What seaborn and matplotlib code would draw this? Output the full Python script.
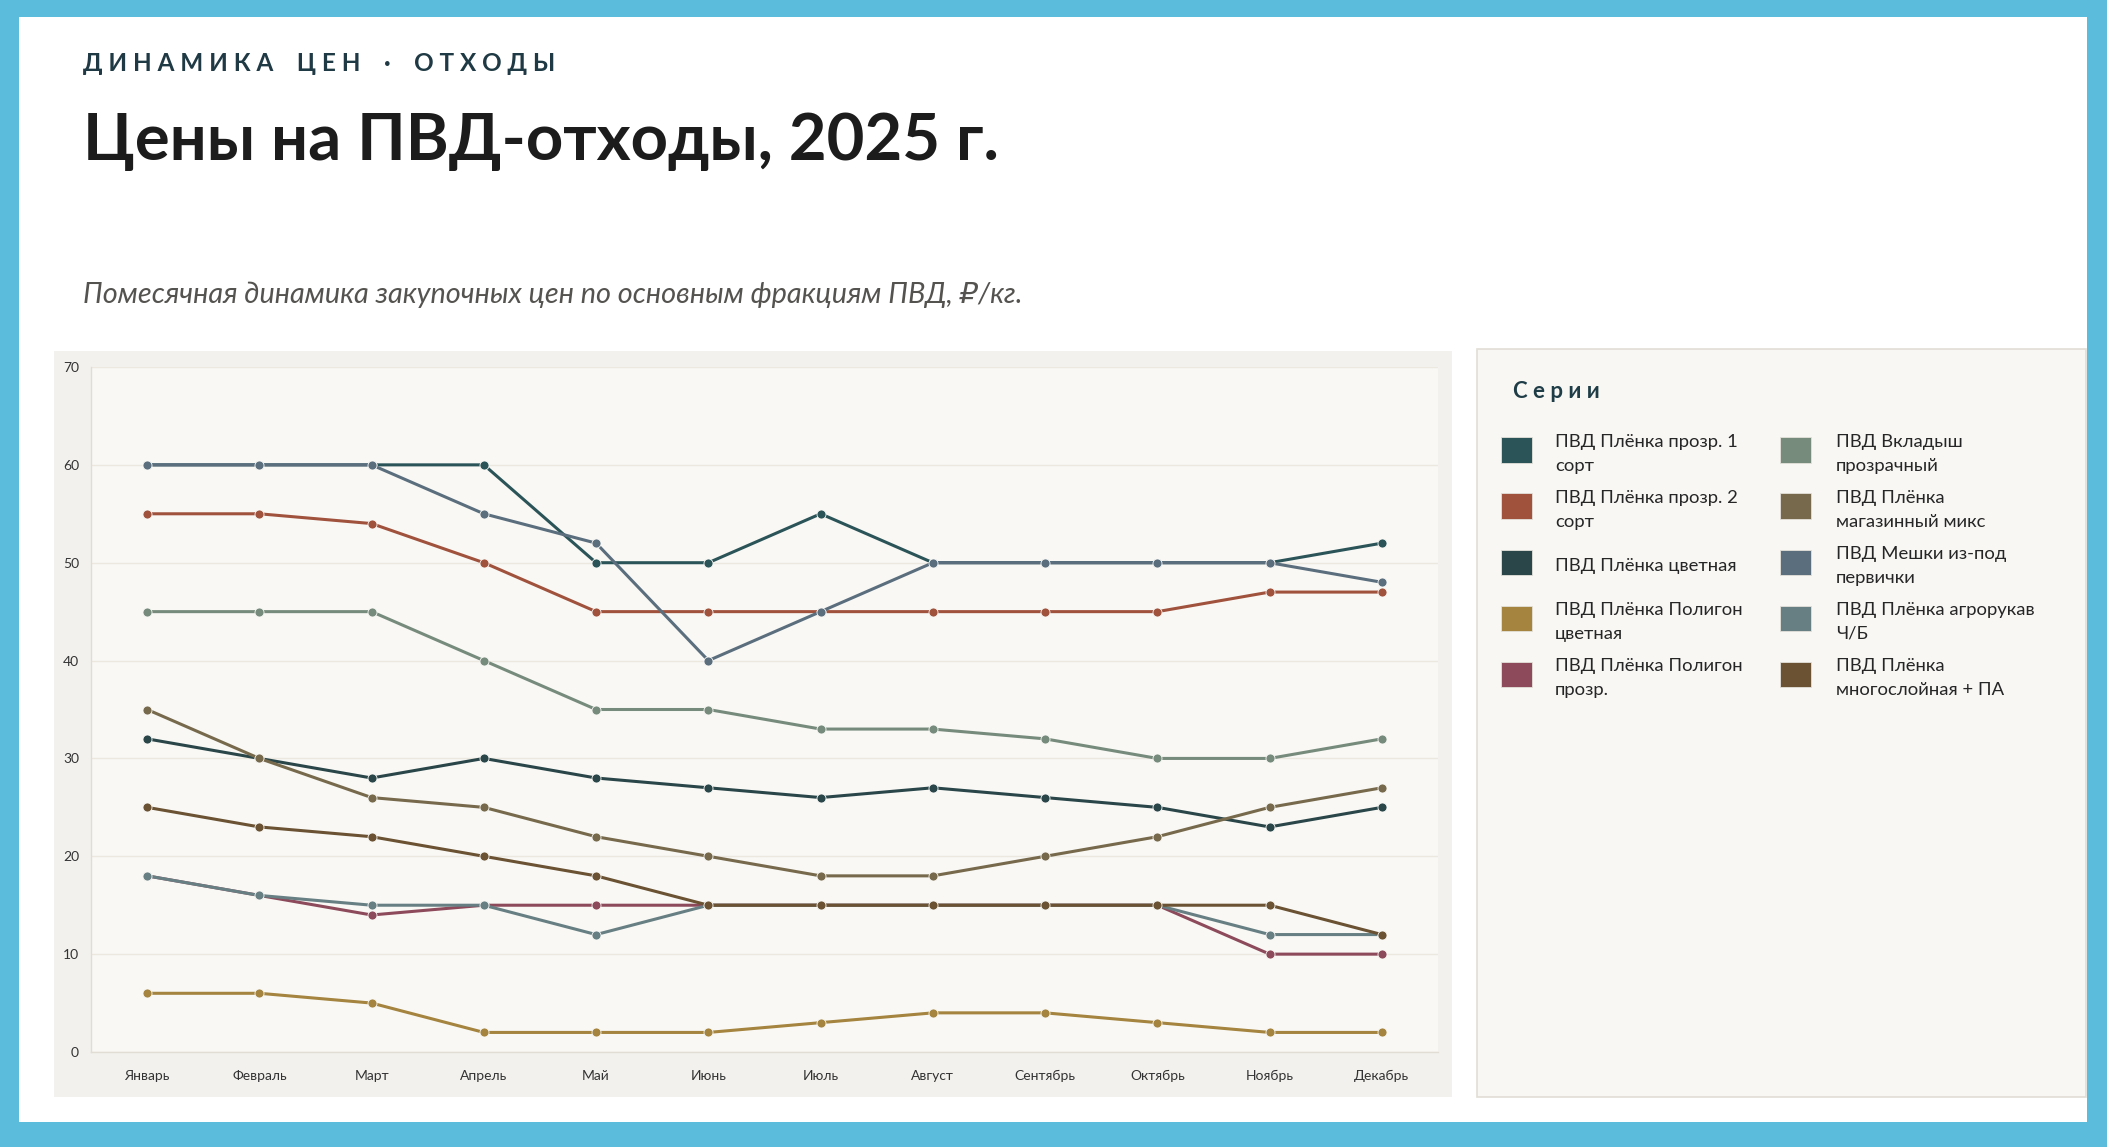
import textwrap
import matplotlib
matplotlib.use('Agg')
import matplotlib.pyplot as plt
from matplotlib import font_manager
from matplotlib.ft2font import FT2Font
from matplotlib.patches import Rectangle
import numpy as np
import pandas as pd
import seaborn as sns


# Months on the x axis
MONTHS = ['Январь', 'Февраль', 'Март', 'Апрель', 'Май', 'Июнь',
          'Июль', 'Август', 'Сентябрь', 'Октябрь', 'Ноябрь', 'Декабрь']

# Series names (legend order, column by column)
SERIES = ['ПВД Плёнка прозр. 1 сорт', 'ПВД Плёнка прозр. 2 сорт', 'ПВД Плёнка цветная',
          'ПВД Плёнка Полигон цветная', 'ПВД Плёнка Полигон прозр.', 'ПВД Вкладыш прозрачный',
          'ПВД Плёнка магазинный микс', 'ПВД Мешки из-под первички', 'ПВД Плёнка агрорукав Ч/Б',
          'ПВД Плёнка многослойная + ПА']

COLORS = ['#2b5458', '#a0523d', '#2a4649', '#a4843e', '#8c4a5a',
          '#778b7c', '#776a4c', '#5a6e7e', '#677f83', '#6a5232']

# Prices, rub/kg
PROZR_1 = [60, 60, 60, 60, 50, 50, 55, 50, 50, 50, 50, 52]
PROZR_2 = [55, 55, 54, 50, 45, 45, 45, 45, 45, 45, 47, 47]
TSVETNAYA = [32, 30, 28, 30, 28, 27, 26, 27, 26, 25, 23, 25]
POLIGON_TSV = [6, 6, 5, 2, 2, 2, 3, 4, 4, 3, 2, 2]
POLIGON_PROZR = [18, 16, 14, 15, 15, 15, 15, 15, 15, 15, 10, 10]
VKLADYSH = [45, 45, 45, 40, 35, 35, 33, 33, 32, 30, 30, 32]
MAGAZIN_MIX = [35, 30, 26, 25, 22, 20, 18, 18, 20, 22, 25, 27]
MESHKI = [60, 60, 60, 55, 52, 40, 45, 50, 50, 50, 50, 48]
AGRORUKAV = [18, 16, 15, 15, 12, 15, 15, 15, 15, 15, 12, 12]
MNOGOSLOY = [25, 23, 22, 20, 18, 15, 15, 15, 15, 15, 15, 12]

VALUES = [PROZR_1, PROZR_2, TSVETNAYA, POLIGON_TSV, POLIGON_PROZR,
          VKLADYSH, MAGAZIN_MIX, MESHKI, AGRORUKAV, MNOGOSLOY]

KICKER = 'Д И Н А М И К А    Ц Е Н    ·    О Т Х О Д Ы'
TITLE = 'Цены на ПВД-отходы, 2025 г.'
SUBTITLE = 'Помесячная динамика закупочных цен по основным фракциям ПВД, ₽/кг.'
LEGEND_TITLE = 'С е р и и'


# pick a font that actually has cyrillic glyphs
def pick_font():
    for fam in ['Lato', 'Noto Sans', 'Open Sans']:
        try:
            path = font_manager.findfont(font_manager.FontProperties(family=fam),
                                         fallback_to_default=False)
        except ValueError:
            continue
        if ord('Ц') in FT2Font(path).get_charmap():
            return fam
    return 'DejaVu Sans'


sns.set_style('white')
FONT = pick_font()
plt.rcParams['font.family'] = [FONT, 'DejaVu Sans']

# long-form table for seaborn
rows = []
for name, vals in zip(SERIES, VALUES):
    for month, v in zip(MONTHS, vals):
        rows.append({'month': month, 'price': v, 'series': name})
df = pd.DataFrame(rows)

W, H = 2107, 1147
fig = plt.figure(figsize=(W / 100, H / 100), dpi=100, facecolor='#5bbcdc')


# rectangle in pixel coords measured from the top-left corner
def box(x0, y0, x1, y1, **kw):
    fig.patches.append(Rectangle((x0 / W, 1 - y1 / H), (x1 - x0) / W, (y1 - y0) / H,
                                 transform=fig.transFigure, figure=fig, **kw))


box(19, 17, 2087, 1122, facecolor='white', lw=0, zorder=-3)
box(54, 351, 1452, 1097, facecolor='#f3f1ed', lw=0, zorder=-2)
box(1477, 349, 2086, 1097, facecolor='#f8f7f4', edgecolor='#e2ddd5', lw=1.2, zorder=-2)

# header texts
fig.text(83 / W, 1 - 71 / H, KICKER, fontsize=17.5, fontweight='bold', color='#1f3a44', va='baseline')
fig.text(83 / W, 1 - 160 / H, TITLE, fontsize=47, fontweight='bold', color='#1c1c1c', va='baseline')
fig.text(83 / W, 1 - 303 / H, SUBTITLE, fontsize=20.8, style='italic', color='#555350', va='baseline')

# main chart
ax = fig.add_axes([91 / W, 1 - 1052 / H, 1347 / W, 685 / H])
ax.set_facecolor('#f9f8f5')
sns.lineplot(data=df, x='month', y='price', hue='series', hue_order=SERIES, palette=COLORS,
             marker='o', markersize=6.5, linewidth=2.2, markeredgewidth=0.6,
             markeredgecolor='#f9f8f5', sort=False, legend=False, ax=ax)

ax.set_xlim(-0.5, len(MONTHS) - 0.5)
ax.set_ylim(0, 70)
ax.set_yticks(range(0, 71, 10))
ax.set_xticks(np.arange(-0.5, len(MONTHS), 1), minor=True)
ax.set_xlabel('')
ax.set_ylabel('')
ax.grid(axis='y', color='#ece7df', lw=1)
ax.grid(axis='x', visible=False)
ax.tick_params(axis='x', which='major', length=0, pad=13, labelsize=10, labelcolor='#333333')
ax.tick_params(axis='x', which='minor', length=4, width=1, color='#ddd8cf')
ax.tick_params(axis='y', length=3.6, width=1, color='#e0dbd2', pad=5, labelsize=10, labelcolor='#333333')
sns.despine(ax=ax)
for side in ['left', 'bottom']:
    ax.spines[side].set_color('#e2ddd4')
    ax.spines[side].set_linewidth(1)

# legend panel (drawn by hand to keep the rows evenly spaced)
fig.text(1513 / W, 1 - 392 / H, LEGEND_TITLE, fontsize=16, fontweight='bold', color='#1f3d47', va='center')
for i, (name, color) in enumerate(zip(SERIES, COLORS)):
    col, row = divmod(i, 5)
    cy = 450 + 56 * row
    sx = [1501, 1780][col]
    tx = [1555, 1836][col]
    box(sx, cy - 12.5, sx + 31, cy + 12.5, facecolor=color, edgecolor='#e4e1da', lw=0.6, zorder=1)
    fig.text(tx / W, 1 - (cy + 4) / H, textwrap.fill(name, 20, break_on_hyphens=False),
             fontsize=13.3, color='#262626', va='center', ha='left', linespacing=1.6)

fig.savefig('out.png', dpi=100, facecolor=fig.get_facecolor())
